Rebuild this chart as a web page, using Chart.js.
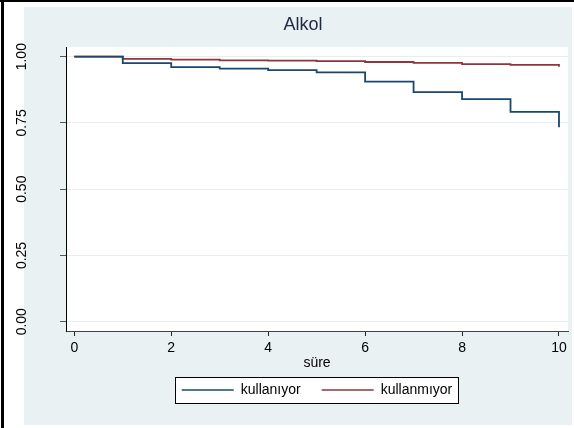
<!DOCTYPE html>
<html>
<head>
<meta charset="utf-8">
<script src="https://cdn.jsdelivr.net/npm/chart.js@4.4.1/dist/chart.umd.min.js"></script>
<style>
  html, body { margin: 0; padding: 0; background: #fff; }
</style>
</head>
<body>
<canvas id="km" width="574" height="428"></canvas>
<script>
// survival time (years) and Kaplan-Meier estimates
const sure = [0, 1, 2, 3, 4, 5, 6, 7, 8, 9, 10];
const kullaniyor = [1, 0.976, 0.961, 0.955, 0.949, 0.941, 0.906, 0.866, 0.840, 0.792, 0.734];
const kullanmiyor = [1, 0.992, 0.989, 0.986, 0.985, 0.983, 0.980, 0.977, 0.972, 0.969, 0.962];

const xTicks = [0, 2, 4, 6, 8, 10];
const yTicks = [0, 0.25, 0.5, 0.75, 1];

Chart.defaults.font.family = "'Liberation Sans', Arial, sans-serif";
Chart.defaults.color = '#000';

const toPoints = (ys) => sure.map((t, i) => ({ x: t, y: ys[i] }));

// stata-ish backdrop: page frame, light graph region, white plot region, legend box
const frame = {
  id: 'frame',
  afterLayout(chart) {
    // let the rotated y labels sit left of the axis box without being clipped
    chart.scales.y.left = 6;
  },
  beforeDraw(chart) {
    const { ctx, chartArea: a } = chart;
    ctx.save();
    ctx.fillStyle = '#fff';
    ctx.fillRect(0, 0, chart.width, chart.height);
    ctx.fillStyle = '#e9f1f3';
    ctx.fillRect(24, 7, 548, 418);
    ctx.fillStyle = '#000';
    ctx.fillRect(1, 0, 3, chart.height);
    ctx.fillRect(0, 0, chart.width, 2);
    ctx.fillStyle = '#fff';
    ctx.fillRect(a.left, a.top, a.right - a.left, a.bottom - a.top);

    const hb = chart.legend.legendHitBoxes;
    if (hb && hb.length) {
      const first = hb[0], last = hb[hb.length - 1];
      const left = first.left - 7;
      const right = last.left + last.width + 6;
      const cy = first.top + first.height / 2;
      ctx.fillStyle = '#fff';
      ctx.fillRect(left, cy - 13, right - left, 26);
      ctx.strokeStyle = '#000';
      ctx.lineWidth = 1;
      ctx.strokeRect(Math.round(left) + 0.5, Math.round(cy - 13) + 0.5, Math.round(right - left), 26);
    }
    ctx.restore();
  }
};

new Chart(document.getElementById('km'), {
  type: 'line',
  data: {
    datasets: [
      {
        label: 'kullanıyor',
        data: toPoints(kullaniyor),
        borderColor: '#1a476f',
        backgroundColor: '#1a476f',
        borderWidth: 1.8,
        stepped: 'before',
        pointRadius: 0,
        fill: false
      },
      {
        label: 'kullanmıyor',
        data: toPoints(kullanmiyor),
        borderColor: '#90353b',
        backgroundColor: '#90353b',
        borderWidth: 1.8,
        stepped: 'before',
        pointRadius: 0,
        fill: false
      }
    ]
  },
  options: {
    responsive: false,
    animation: false,
    devicePixelRatio: 1,
    layout: { padding: { left: 38, right: 6, top: 0, bottom: 21 } },
    scales: {
      x: {
        type: 'linear',
        min: -0.171,
        max: 10.186,
        afterBuildTicks: s => { s.ticks = xTicks.map(v => ({ value: v })); },
        afterFit: s => { s.height = 31; },
        border: { color: '#444', width: 1 },
        grid: { drawOnChartArea: false, tickLength: 5, tickColor: '#222' },
        ticks: { padding: 4, color: '#000', font: { size: 14 }, maxRotation: 0 },
        title: { display: true, text: 'süre', color: '#000', font: { size: 14 }, padding: { top: 0, bottom: -9.4 } }
      },
      y: {
        type: 'linear',
        min: -0.035,
        max: 1.0366,
        afterBuildTicks: s => { s.ticks = yTicks.map(v => ({ value: v })); },
        afterFit: s => { s.width = 28; },
        border: { color: '#000', width: 1 },
        grid: { color: '#e6eef0', lineWidth: 1, tickLength: 6, tickColor: '#555' },
        ticks: {
          minRotation: 90,
          maxRotation: 90,
          crossAlign: 'center',
          padding: 24,
          color: '#000',
          font: { size: 14 },
          callback: v => Number(v).toFixed(2)
        }
      }
    },
    plugins: {
      title: {
        display: true,
        text: 'Alkol',
        color: '#1e2a44',
        font: { size: 18, weight: 'normal' },
        padding: { top: 14.2, bottom: 11.2 }
      },
      legend: {
        position: 'bottom',
        fullSize: false,
        labels: {
          boxWidth: 52,
          boxHeight: 1.5,
          padding: 21,
          color: '#000',
          font: { size: 14 },
          generateLabels(chart) {
            const items = Chart.defaults.plugins.legend.labels.generateLabels(chart);
            items.forEach(it => { it.lineWidth = 0; });
            return items;
          }
        }
      },
      tooltip: { enabled: false }
    }
  },
  plugins: [frame]
});
</script>
</body>
</html>
